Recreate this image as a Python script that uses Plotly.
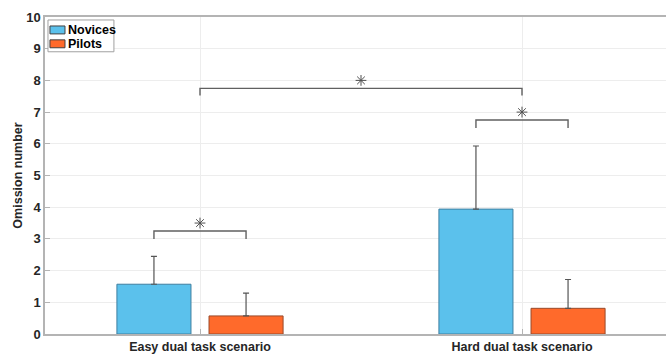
import plotly.graph_objects as go

# Omission counts per scenario and group (mean, SD)
scenarios = ["Easy dual task scenario", "Hard dual task scenario"]
groups = ["Novices", "Pilots"]
novices_mean = [1.57, 3.94]
novices_sd = [0.88, 1.99]
pilots_mean = [0.57, 0.81]
pilots_sd = [0.72, 0.91]
y_ticks = list(range(0, 11))

colors = {"Novices": "#5BC1EC", "Pilots": "#FF6A2B"}
edges = {"Novices": "#3F7FA0", "Pilots": "#9A4A2A"}

x_pos = [1, 2]
offset = 0.143  # half distance between grouped bar centers
bar_w = 0.23

fig = go.Figure()

for name, means, sds, sign in [("Novices", novices_mean, novices_sd, -1),
                               ("Pilots", pilots_mean, pilots_sd, 1)]:
    fig.add_trace(go.Bar(
        name=name, x=[x + sign * offset for x in x_pos], y=means, width=bar_w,
        marker=dict(color=colors[name], line=dict(color=edges[name], width=1)),
        error_y=dict(type="data", symmetric=False, array=sds,
                     arrayminus=[0] * len(sds), color="#555555",
                     thickness=1.2, width=3),
        showlegend=False,
    ))

bracket_color = "#606060"


def bracket(x0, x1, y, drop, star_x, star_y):
    fig.add_trace(go.Scatter(
        x=[x0, x0, x1, x1], y=[y - drop, y, y, y - drop], mode="lines",
        line=dict(color=bracket_color, width=1.4), showlegend=False,
        hoverinfo="skip"))
    fig.add_trace(go.Scatter(
        x=[star_x], y=[star_y], mode="markers",
        marker=dict(symbol="asterisk-open", size=9, color="#505050",
                    line=dict(color="#505050", width=1)),
        showlegend=False, hoverinfo="skip"))


# Novices vs pilots, easy scenario
bracket(x_pos[0] - offset, x_pos[0] + offset, 3.25, 0.25, x_pos[0], 3.5)
# Novices vs pilots, hard scenario
bracket(x_pos[1] - offset, x_pos[1] + offset, 6.75, 0.25, x_pos[1], 7.0)
# Easy vs hard scenario
bracket(x_pos[0], x_pos[1], 7.75, 0.23, (x_pos[0] + x_pos[1]) / 2, 8.0)

# Compact boxed legend in the upper-left corner (paper coordinates)
shapes = [dict(type="rect", xref="paper", yref="paper",
               x0=0.0048, x1=0.111, y0=0.8903, y1=0.9906,
               line=dict(color="#A0A0A0", width=1), fillcolor="white")]
annotations = []
row_y = [0.9592, 0.9154]
for name, yc in zip(groups, row_y):
    shapes.append(dict(type="rect", xref="paper", yref="paper",
                       x0=0.008, x1=0.0322, y0=yc - 0.0125, y1=yc + 0.0125,
                       line=dict(color="#404040", width=1),
                       fillcolor=colors[name]))
    annotations.append(dict(xref="paper", yref="paper", x=0.0335, y=yc,
                            xanchor="left", yanchor="middle", showarrow=False,
                            text=f"<b>{name}</b>",
                            font=dict(size=12.5, color="#000000")))

axis_color = "#B4B4B4"
font_family = "Liberation Sans, Arial, sans-serif"
tick_font = dict(family=font_family, size=13, color="#262626")

fig.update_layout(
    width=666, height=354,
    margin=dict(l=45, r=0, t=17, b=18),
    paper_bgcolor="white", plot_bgcolor="white",
    barmode="overlay",
    font=dict(family=font_family, color="#262626"),
    showlegend=False,
    shapes=shapes,
    annotations=annotations,
    xaxis=dict(
        range=[1 - 155 / 322, 1 + 466 / 322],
        tickvals=x_pos, ticktext=[f"<b>{s}</b>" for s in scenarios],
        tickfont=dict(family=font_family, size=12.5, color="#262626"),
        showgrid=True, gridcolor="#EDEDED", gridwidth=1,
        showline=True, linecolor=axis_color, linewidth=1.5, mirror=True,
        ticks="inside", ticklen=5, tickcolor=axis_color,
        zeroline=False,
    ),
    yaxis=dict(
        range=[0, 10], tickvals=y_ticks,
        ticktext=[f"<b>{v}</b>" for v in y_ticks],
        tickfont=tick_font,
        title=dict(text="<b>Omission number</b>", standoff=1,
                   font=dict(size=12.5, color="#262626")),
        showgrid=True, gridcolor="#EDEDED", gridwidth=1,
        showline=True, linecolor=axis_color, linewidth=1.5, mirror=False,
        ticks="inside", ticklen=5, tickcolor=axis_color,
        zeroline=False,
    ),
)

fig.write_html("out.html")
